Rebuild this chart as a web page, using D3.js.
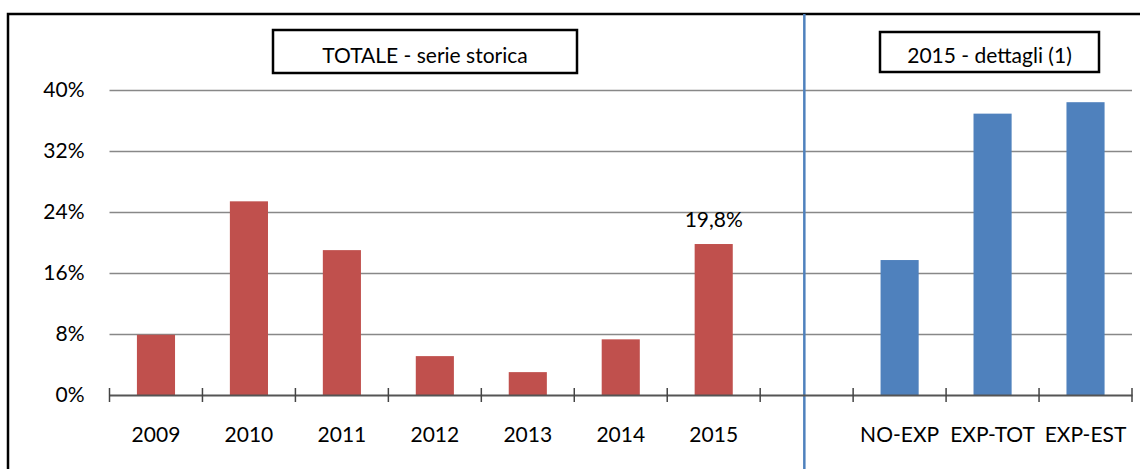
<!DOCTYPE html>
<html>
<head>
<meta charset="utf-8">
<script src="https://cdn.jsdelivr.net/npm/d3@7"></script>
<style>
  body { margin: 0; background: #fff; }
  svg { display: block; font-family: Lato, "Open Sans", sans-serif; }
</style>
</head>
<body>
<svg id="chart" width="1140" height="469"></svg>
<script>
// values (percent)
const years = ['2009', '2010', '2011', '2012', '2013', '2014', '2015'];
const totalValues = [7.9, 25.4, 19.0, 5.1, 3.0, 7.3, 19.8];
const detailCats = ['NO-EXP', 'EXP-TOT', 'EXP-EST'];
const detailValues = [17.7, 36.9, 38.4];
const yTicks = [0, 8, 16, 24, 32, 40];
const gapKey = ' ';
const labelled = { cat: '2015', text: '19,8%' };

const svg = d3.select('#chart');
const margin = { top: 90, right: 7.5, bottom: 74, left: 109.5 };
const width = 1140, height = 469;
const fontSize = '21px';

const categories = [...years, gapKey, ...detailCats];
const bars = [
  ...years.map((c, i) => ({ cat: c, value: totalValues[i], color: '#c0504d' })),
  ...detailCats.map((c, i) => ({ cat: c, value: detailValues[i], color: '#4f81bd' }))
];

const x = d3.scaleBand()
  .domain(categories)
  .range([margin.left, width - margin.right - 0.5])
  .padding(0);

const y = d3.scaleLinear()
  .domain([0, 40])
  .range([height - margin.bottom, margin.top]);

const barW = x.bandwidth() * 0.41;

// outer frame (only top and left visible)
svg.append('path')
  .attr('d', `M8,${height + 5}V14H${width + 5}`)
  .attr('fill', 'none')
  .attr('stroke', '#000')
  .attr('stroke-width', 2.5);

// gridlines + y labels
const yAxis = g => g
  .attr('transform', `translate(${margin.left},0)`)
  .call(d3.axisLeft(y)
    .tickValues(yTicks)
    .tickSize(-(x.range()[1] - margin.left))
    .tickPadding(25)
    .tickFormat(d => d + '%'))
  .call(g => g.select('.domain').remove())
  .call(g => g.selectAll('.tick line')
    .attr('stroke', '#888')
    .attr('stroke-width', 1.5)
    .attr('opacity', d => d === 0 ? 0 : 1))
  .call(g => g.selectAll('.tick text')
    .attr('fill', '#000')
    .style('font-size', fontSize)
    .style('font-family', 'Lato, sans-serif'));

svg.append('g').call(yAxis);

// separator between the two panels
const sepX = x(gapKey) + x.step() * 0.475;
svg.append('line')
  .attr('x1', sepX).attr('x2', sepX)
  .attr('y1', 14).attr('y2', height)
  .attr('stroke', '#4f81bd')
  .attr('stroke-width', 2.5);

// bars
svg.append('g')
  .selectAll('rect')
  .data(bars)
  .join('rect')
    .attr('x', d => x(d.cat) + (x.bandwidth() - barW) / 2)
    .attr('y', d => y(d.value))
    .attr('width', barW)
    .attr('height', d => y(0) - y(d.value))
    .attr('fill', d => d.color);

// x axis line with ticks on the category boundaries
const xAxis = g => g
  .attr('transform', `translate(0,${y(0)})`)
  .call(d3.axisBottom(x).tickSize(0).tickPadding(0).tickFormat(d => d.trim()))
  .call(g => g.select('.domain')
    .attr('stroke', '#555')
    .attr('stroke-width', 2))
  .call(g => g.selectAll('.tick text')
    .attr('y', 47)
    .attr('dy', 0)
    .attr('fill', '#000')
    .style('font-size', fontSize)
    .style('font-family', 'Lato, sans-serif'));

const xAxisG = svg.append('g').call(xAxis);

const bounds = [...categories.map(c => x(c)), x.range()[1]];
xAxisG.append('g')
  .selectAll('line')
  .data(bounds)
  .join('line')
    .attr('x1', d => d).attr('x2', d => d)
    .attr('y1', -7).attr('y2', 7)
    .attr('stroke', '#444')
    .attr('stroke-width', 1.5);

// data label
svg.append('text')
  .attr('x', x(labelled.cat) + x.bandwidth() / 2)
  .attr('y', y(totalValues[years.indexOf(labelled.cat)]) - 17)
  .attr('text-anchor', 'middle')
  .style('font-size', fontSize)
  .text(labelled.text);

// panel titles
const titles = [
  { text: 'TOTALE - serie storica', cx: 425, w: 304, top: 30, h: 43 },
  { text: '2015 - dettagli (1)', cx: 989.5, w: 219, top: 32, h: 40 }
];
const tg = svg.append('g').selectAll('g').data(titles).join('g');
tg.append('rect')
  .attr('x', d => d.cx - d.w / 2)
  .attr('y', d => d.top)
  .attr('width', d => d.w)
  .attr('height', d => d.h)
  .attr('fill', '#fff')
  .attr('stroke', '#000')
  .attr('stroke-width', 2.5);
tg.append('text')
  .attr('x', d => d.cx)
  .attr('y', 63)
  .attr('text-anchor', 'middle')
  .style('font-size', fontSize)
  .text(d => d.text);
</script>
</body>
</html>
